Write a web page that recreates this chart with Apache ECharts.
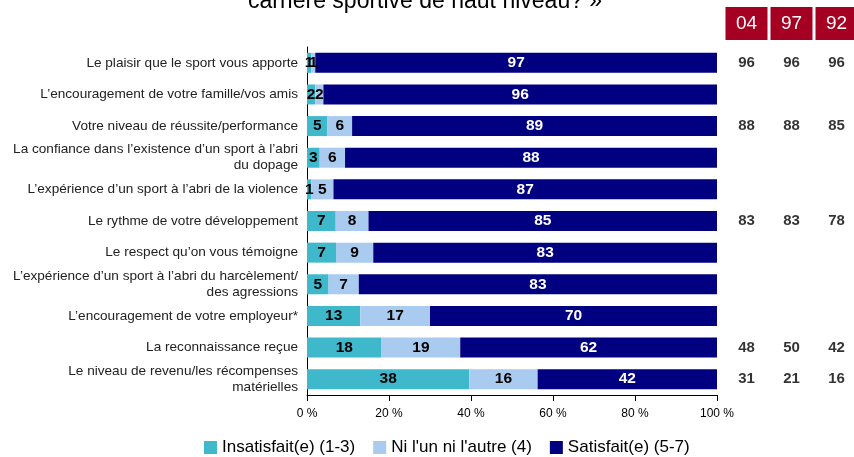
<!DOCTYPE html>
<html>
<head>
<meta charset="utf-8">
<script src="https://cdn.jsdelivr.net/npm/echarts@6/dist/echarts.min.js"></script>
<style>
  html, body { margin: 0; padding: 0; background: #fff; }
  #chart { width: 854px; height: 457px; }
</style>
</head>
<body>
<div id="chart"></div>
<script>
const categories = [
  "Le plaisir que le sport vous apporte",
  "L’encouragement de votre famille/vos amis",
  "Votre niveau de réussite/performance",
  "La confiance dans l’existence d’un sport à l’abri\ndu dopage",
  "L’expérience d’un sport à l’abri de la violence",
  "Le rythme de votre développement",
  "Le respect qu’on vous témoigne",
  "L’expérience d’un sport à l’abri du harcèlement/\ndes agressions",
  "L’encouragement de votre employeur*",
  "La reconnaissance reçue",
  "Le niveau de revenu/les récompenses\nmatérielles"
];
const insatisfait = [1, 2, 5, 3, 1, 7, 7, 5, 13, 18, 38];
const niAutre = [1, 2, 6, 6, 5, 8, 9, 7, 17, 19, 16];
const satisfait = [97, 96, 89, 88, 87, 85, 83, 83, 70, 62, 42];

const years = ["04", "97", "92"];
// earlier survey results, by row (null = not asked)
const history = [
  [96, 96, 96], null, [88, 88, 85], null, null, [83, 83, 78],
  null, null, null, [48, 50, 42], [31, 21, 16]
];

const sans = "'Liberation Sans', Arial, sans-serif";

// bars are drawn as a 100% stack, labels keep the raw values
const share = (arr, i) => {
  const total = insatisfait[i] + niAutre[i] + satisfait[i];
  return { value: arr[i] / total * 100, raw: arr[i] };
};

const barSeries = (name, arr, color, labelColor) => ({
  name: name,
  type: "bar",
  stack: "all",
  barWidth: 20,
  xAxisIndex: 0,
  yAxisIndex: 0,
  itemStyle: { color: color },
  label: {
    show: true,
    position: "inside",
    color: labelColor,
    fontFamily: sans,
    fontWeight: "bold",
    fontSize: 15.5,
    formatter: (p) => p.data.raw
  },
  data: categories.map((c, i) => share(arr, i))
});

const historyPoints = [];
history.forEach((row, i) => {
  if (!row) return;
  row.forEach((v, j) => historyPoints.push([years[j], categories[i], v]));
});

const chart = echarts.init(document.getElementById("chart"));
chart.setOption({
  animation: false,
  graphic: [{
    type: "text",
    left: 248,
    top: -10,
    style: {
      text: "carrière sportive de haut niveau? »",
      font: "23px " + sans,
      fill: "#000"
    }
  }],
  grid: [
    { left: 307, right: 137, top: 47, bottom: 62, outerBoundsMode: "none" },
    { left: 724, width: 135, top: 47, bottom: 62, outerBoundsMode: "none" }
  ],
  xAxis: [
    {
      gridIndex: 0,
      type: "value",
      min: 0,
      max: 100,
      interval: 20,
      splitLine: { show: false },
      axisLine: { show: true, lineStyle: { color: "#000", width: 1 } },
      axisTick: { show: true, length: 6, lineStyle: { color: "#000" } },
      axisLabel: {
        color: "#000",
        fontFamily: sans,
        fontSize: 12,
        margin: 13,
        formatter: "{value} %"
      }
    },
    {
      gridIndex: 1,
      type: "category",
      data: years,
      position: "top",
      axisLine: { show: false },
      axisTick: { show: false },
      axisLabel: {
        color: "#fff",
        fontFamily: sans,
        fontSize: 19,
        backgroundColor: "#a50021",
        width: 42,
        align: "center",
        padding: [7, 0, 7, 0],
        margin: 7
      }
    }
  ],
  yAxis: [
    {
      gridIndex: 0,
      type: "category",
      data: categories,
      inverse: true,
      axisLine: { show: true, lineStyle: { color: "#000", width: 1 } },
      axisTick: { show: false },
      axisLabel: {
        color: "#222",
        fontFamily: sans,
        fontSize: 13.6,
        lineHeight: 16,
        margin: 9,
        align: "right"
      }
    },
    {
      gridIndex: 1,
      type: "category",
      data: categories,
      inverse: true,
      show: false
    }
  ],
  legend: {
    left: 199,
    top: 434,
    icon: "rect",
    itemWidth: 13,
    itemHeight: 13,
    itemGap: 18,
    textStyle: { color: "#000", fontFamily: sans, fontSize: 17 },
    data: ["Insatisfait(e) (1-3)", "Ni l'un ni l'autre (4)", "Satisfait(e) (5-7)"]
  },
  series: [
    barSeries("Insatisfait(e) (1-3)", insatisfait, "#40b8cc", "#000"),
    barSeries("Ni l'un ni l'autre (4)", niAutre, "#a9cbf0", "#000"),
    barSeries("Satisfait(e) (5-7)", satisfait, "#000080", "#fff"),
    {
      type: "scatter",
      xAxisIndex: 1,
      yAxisIndex: 1,
      symbolSize: 0,
      silent: true,
      label: {
        show: true,
        position: "inside",
        color: "#000",
        fontFamily: sans,
        fontWeight: "bold",
        fontSize: 15,
        formatter: (p) => p.data[2]
      },
      data: historyPoints
    }
  ]
});
</script>
</body>
</html>
